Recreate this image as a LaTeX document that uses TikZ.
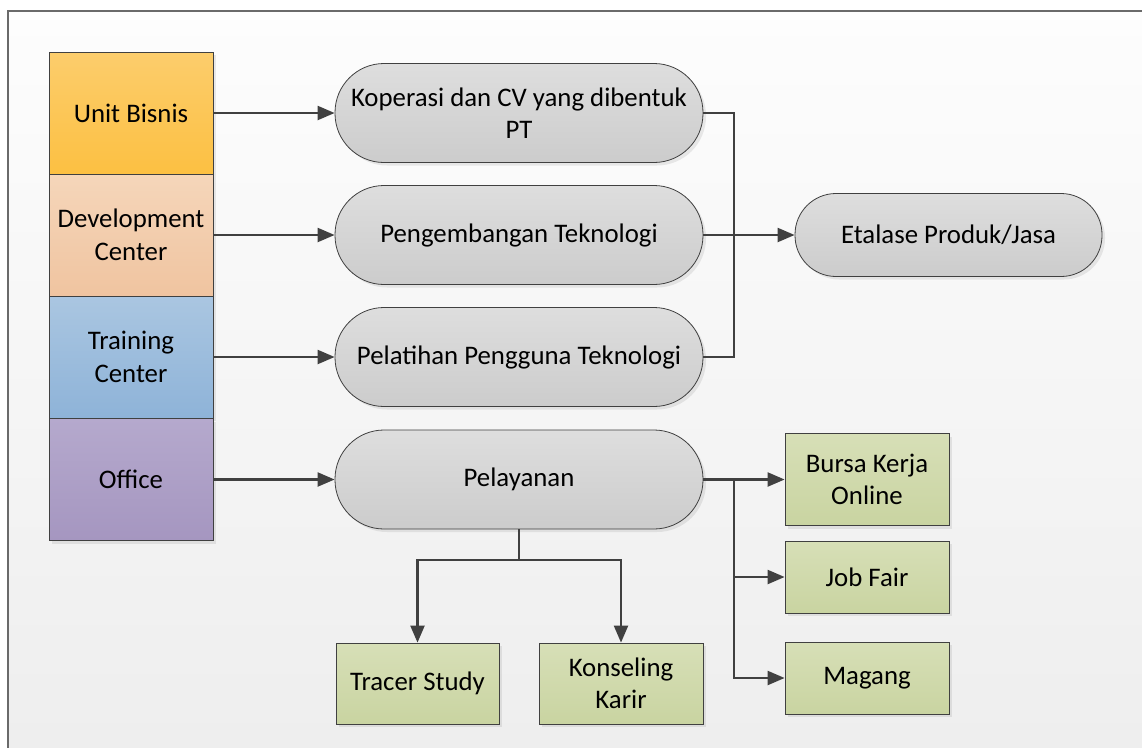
\documentclass[tikz,border=0pt]{standalone}
\usepackage{fontspec}
\setmainfont{Carlito}
\usetikzlibrary{arrows.meta,shadows,calc}
\definecolor{linec}{HTML}{404040}
\definecolor{framec}{HTML}{6A6A6A}
\definecolor{green1}{HTML}{D7DFB7}
\definecolor{green2}{HTML}{C9D4A1}
\tikzset{
  x=1pt,y=-1pt,
  txt/.style={font=\fontsize{26.8}{32.5}\selectfont, align=center, text=black},
  shd/.style={drop shadow={shadow xshift=3pt,shadow yshift=-3pt,fill=black,opacity=0.08}},
  unitbox/.style={txt, draw=linec, line width=0.8pt, minimum width=164pt, minimum height=122pt, inner sep=0pt, shd},
  pill/.style={txt, draw=linec, line width=0.8pt, rounded corners=49pt, minimum width=368pt, minimum height=99pt, inner sep=0pt, top color=gray!26, bottom color=gray!40, shd},
  greenbox/.style={txt, draw=linec, line width=0.8pt, minimum width=164pt, inner sep=0pt, top color=green1, bottom color=green2, shd},
  conn/.style={draw=linec, line width=2.2pt, -{Triangle[length=17pt,width=14pt]}},
  plain/.style={draw=linec, line width=2.2pt},
}
\begin{document}
\begin{tikzpicture}
\useasboundingbox (0,0) rectangle (1142,747);
% background and frame
\shade[top color={rgb,255:red,253;green,253;blue,253}, bottom color={rgb,255:red,238;green,238;blue,238}] (8,11) rectangle (1142,747);
\draw[framec, line width=1.6pt] (8,760) -- (8,11) -- (1160,11);

% left column
\node[unitbox, top color={rgb,255:red,252;green,205;blue,108}, bottom color={rgb,255:red,252;green,192;blue,66}] (ub) at (131,113) {Unit Bisnis};
\node[unitbox, top color={rgb,255:red,245;green,214;blue,186}, bottom color={rgb,255:red,240;green,196;blue,160}] (dc) at (131,235) {Development\\Center};
\node[unitbox, top color={rgb,255:red,170;green,198;blue,225}, bottom color={rgb,255:red,142;green,179;blue,216}] (tc) at (131,357) {Training\\Center};
\node[unitbox, top color={rgb,255:red,181;green,169;blue,205}, bottom color={rgb,255:red,165;green,150;blue,192}] (of) at (131,479.5) {Office};

% pills
\node[pill] (kop) at (519,113) {Koperasi dan CV yang dibentuk\\PT};
\node[pill] (pen) at (519,235) {Pengembangan Teknologi};
\node[pill] (pel) at (519,357) {Pelatihan Pengguna Teknologi};
\node[pill] (ply) at (519,479.5) {Pelayanan};
\node[pill, minimum width=307pt, minimum height=83pt, rounded corners=41pt] (eta) at (948.5,235) {Etalase Produk/Jasa};

% green boxes
\node[greenbox, minimum height=92pt] (bko) at (867,479.5) {Bursa Kerja\\Online};
\node[greenbox, minimum height=72pt] (jf) at (867,577) {Job Fair};
\node[greenbox, minimum height=72pt] (mg) at (867,678) {Magang};
\node[greenbox, minimum width=163pt, minimum height=81pt] (ts) at (417.5,683.5) {Tracer Study};
\node[greenbox, minimum width=164pt, minimum height=81pt] (kk) at (621,683.5) {Konseling\\Karir};

% connectors left -> pills
\draw[conn] (ub.east) -- (kop.west);
\draw[conn] (dc.east) -- (pen.west);
\draw[conn] (tc.east) -- (pel.west);
\draw[conn] (of.east) -- (ply.west);

% bus to Etalase
\coordinate (bus1) at (734,235);
\draw[plain] (kop.east) -| (bus1);
\draw[plain] (pel.east) -| (bus1);
\draw[conn] (pen.east) -- (eta.west);

% Pelayanan to right boxes
\coordinate (bus2) at (734,479.5);
\draw[conn] (ply.east) -- (bko.west);
\draw[conn] (bus2) |- (jf.west);
\draw[conn] (bus2) |- (mg.west);

% Pelayanan down
\coordinate (split) at (519,560);
\draw[plain] (ply.south) -- (split);
\draw[conn] (split) -| (ts.north);
\draw[conn] (split) -| (kk.north);
\end{tikzpicture}
\end{document}
